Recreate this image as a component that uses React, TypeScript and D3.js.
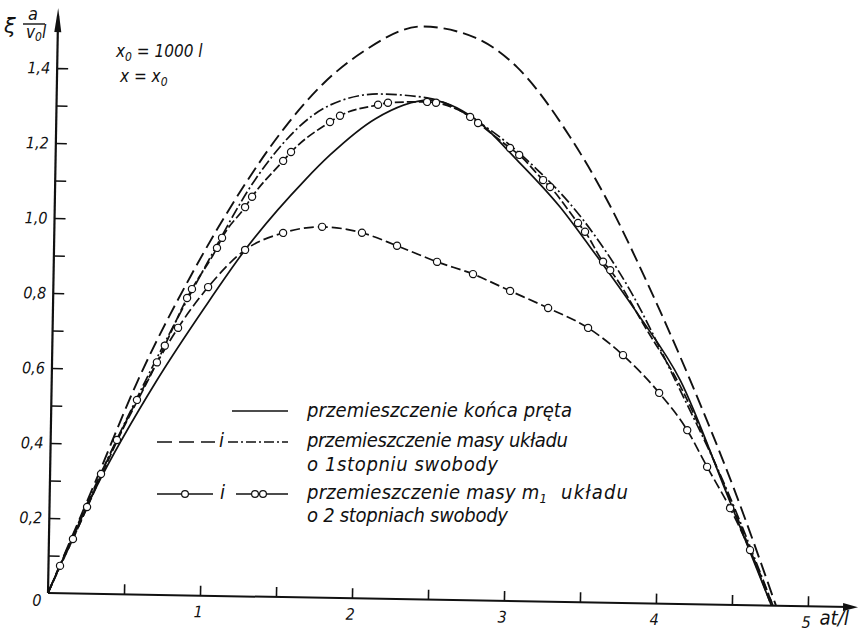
import React, { useEffect, useRef } from "react";
import * as d3 from "d3";

type Pt = [number, number];

// values: [at/l, xi*a/(v0*l)]
const rodEnd: Pt[] = [
  [0, 0], [0.3, 0.28], [0.693, 0.573], [1.0, 0.77], [1.257, 0.924], [1.643, 1.113],
  [1.805, 1.181], [2.1, 1.28], [2.457, 1.332], [2.75, 1.285], [3.036, 1.176],
  [3.324, 1.053], [3.526, 0.948], [3.85, 0.77], [4.134, 0.597], [4.45, 0.3], [4.76, 0],
];

const oneDofDashed: Pt[] = [
  [0, 0], [0.3, 0.3], [0.568, 0.572], [0.9, 0.85], [1.235, 1.09], [1.5, 1.25],
  [1.75, 1.37], [2.0, 1.455], [2.402, 1.528], [2.75, 1.5], [3.025, 1.424],
  [3.382, 1.24], [3.632, 1.074], [3.9, 0.86], [4.199, 0.598], [4.5, 0.31], [4.79, 0],
];

const oneDofDashDot: Pt[] = [
  [0, 0], [0.3, 0.29], [0.62, 0.573], [1.0, 0.88], [1.314, 1.111], [1.799, 1.314],
  [2.127, 1.346], [2.437, 1.338], [2.8, 1.27], [3.122, 1.169], [3.477, 1.02],
  [3.8, 0.83], [4.101, 0.597], [4.45, 0.31], [4.77, 0],
];

// m1, two degrees of freedom, single circles
const twoDofMarks: Pt[] = [
  [0.076, 0.073], [0.158, 0.145], [0.247, 0.231], [0.335, 0.32], [0.436, 0.411],
  [0.563, 0.519], [0.825, 0.713], [1.018, 0.823], [1.257, 0.924], [1.505, 0.971],
  [1.761, 0.989], [2.024, 0.975], [2.256, 0.942], [2.521, 0.901], [2.759, 0.87],
  [3.005, 0.827], [3.257, 0.783], [3.522, 0.732], [3.755, 0.661], [3.997, 0.562],
  [4.186, 0.464], [4.321, 0.367], [4.477, 0.258], [4.613, 0.147],
];
const twoDofLine: Pt[] = [[0, 0], ...twoDofMarks, [4.77, 0]];

// m1, two degrees of freedom, paired circles
const twoDofPairMarks: Pt[] = [
  [0.69, 0.62], [0.74, 0.665], [0.881, 0.793], [0.912, 0.817], [1.072, 0.928],
  [1.104, 0.955], [1.252, 1.038], [1.297, 1.066], [1.497, 1.163], [1.548, 1.187],
  [1.801, 1.269], [1.866, 1.286], [2.115, 1.317], [2.18, 1.323], [2.437, 1.327],
  [2.496, 1.325], [2.722, 1.289], [2.775, 1.273], [2.988, 1.208], [3.049, 1.19],
  [3.209, 1.124], [3.256, 1.106], [3.444, 1.011], [3.491, 0.988], [3.613, 0.909],
  [3.661, 0.887],
];
const twoDofPairLine: Pt[] = [
  [0, 0], [0.2, 0.185], [0.45, 0.42], ...twoDofPairMarks,
  [3.9, 0.735], [4.15, 0.57], [4.45, 0.305], [4.76, 0],
];

const xTickValues = [0.5, 1, 1.5, 2, 2.5, 3, 3.5, 4, 4.5, 5];
const xTickLabels = ["", "1", "", "2", "", "3", "", "4", "", "5"];
const yTickValues = [0.1, 0.2, 0.3, 0.4, 0.5, 0.6, 0.7, 0.8, 0.9, 1.0, 1.1, 1.2, 1.3, 1.4];
const yTickLabels = ["", "0,2", "", "0,4", "", "0,6", "", "0,8", "", "1,0", "", "1,2", "", "1,4"];

const W = 865, H = 636;
const X0 = 48, Y0 = 593;
const TILT = 1; // the scan is turned about one degree
const FONT = "'Liberation Sans Narrow', 'DejaVu Sans Condensed', 'Liberation Sans', sans-serif";
const INK = "#111";

export default function App() {
  const ref = useRef<SVGSVGElement>(null);

  useEffect(() => {
    const svg = d3.select(ref.current);
    svg.selectAll("*").remove();

    const x = d3.scaleLinear().domain([0, 5]).range([X0, X0 + 760]);
    const y = d3.scaleLinear().domain([0, 1.4]).range([Y0, Y0 - 525]);

    const g = svg.append("g").attr("transform", `rotate(${TILT},${X0},${Y0})`);

    // X axis
    const xAxis = g.append("g")
      .attr("transform", `translate(0,${Y0})`)
      .call(d3.axisBottom(x).tickValues(xTickValues).tickSizeInner(-10).tickSizeOuter(0)
        .tickPadding(8).tickFormat((d, i) => xTickLabels[i]));
    xAxis.select(".domain").remove();
    xAxis.selectAll("line").attr("stroke", INK).attr("stroke-width", 1.6);
    xAxis.selectAll("text").attr("font-family", FONT).attr("font-style", "italic")
      .attr("font-size", 16).attr("fill", INK).attr("dy", "0.85em").attr("dx", -2);

    // Y axis
    const yAxis = g.append("g")
      .attr("transform", `translate(${X0},0)`)
      .call(d3.axisLeft(y).tickValues(yTickValues).tickSizeInner(-11).tickSizeOuter(0)
        .tickPadding(7).tickFormat((d, i) => yTickLabels[i]));
    yAxis.select(".domain").remove();
    yAxis.selectAll("line").attr("stroke", INK).attr("stroke-width", 1.6);
    yAxis.selectAll("text").attr("font-family", FONT).attr("font-style", "italic")
      .attr("font-size", 16).attr("fill", INK);

    const xTip = x(5.33), yTip = y(1.56);
    g.append("line").attr("x1", X0).attr("y1", Y0).attr("x2", xTip - 8).attr("y2", Y0)
      .attr("stroke", INK).attr("stroke-width", 2);
    g.append("path").attr("d", `M${xTip},${Y0}L${xTip - 15},${Y0 - 4}L${xTip - 15},${Y0 + 4}Z`)
      .attr("fill", INK);
    g.append("line").attr("x1", X0).attr("y1", Y0).attr("x2", X0).attr("y2", yTip + 8)
      .attr("stroke", INK).attr("stroke-width", 2.2);
    g.append("path").attr("d", `M${X0},${yTip}L${X0 - 3.5},${yTip + 24}L${X0 + 3.5},${yTip + 24}Z`)
      .attr("fill", INK);

    g.append("text").attr("x", X0 - 11).attr("y", Y0 + 13).attr("text-anchor", "middle")
      .attr("font-family", FONT).attr("font-style", "italic").attr("font-size", 16)
      .attr("fill", INK).text("0");
    g.append("text").attr("x", x(5) + 12).attr("y", Y0 + 18)
      .attr("font-family", FONT).attr("font-style", "italic").attr("font-size", 20)
      .attr("fill", INK).text("at/l");

    // curves
    const line = d3.line<Pt>().x(d => x(d[0])).y(d => y(d[1])).curve(d3.curveMonotoneX);
    const curve = (data: Pt[], dash: string | null, w = 1.8) =>
      g.append("path").datum(data).attr("d", line).attr("fill", "none")
        .attr("stroke", INK).attr("stroke-width", w)
        .attr("stroke-dasharray", dash).attr("stroke-linecap", "butt");

    curve(rodEnd, null, 1.7);
    curve(oneDofDashed, "14 6", 1.9);
    curve(oneDofDashDot, "11 3 2 3", 1.7);
    curve(twoDofLine, "10 4", 1.7);
    curve(twoDofPairLine, "9 3", 1.7);

    const marks = (data: Pt[]) =>
      g.append("g").selectAll("circle").data(data).join("circle")
        .attr("cx", d => x(d[0])).attr("cy", d => y(d[1])).attr("r", 3.6)
        .attr("fill", "#fff").attr("stroke", INK).attr("stroke-width", 1.2);
    marks(twoDofMarks);
    marks(twoDofPairMarks);

    // label of the y axis
    const t = svg.append("g").attr("fill", INK).attr("font-style", "italic");
    t.append("text").attr("x", 4).attr("y", 33).attr("font-family", "'DejaVu Sans', sans-serif")
      .attr("font-size", 21).text("ξ");
    t.append("text").attr("x", 33).attr("y", 20).attr("text-anchor", "middle")
      .attr("font-family", FONT).attr("font-size", 18).text("a");
    t.append("line").attr("x1", 23).attr("x2", 45).attr("y1", 24).attr("y2", 24)
      .attr("stroke", INK).attr("stroke-width", 1.4);
    const vl = t.append("text").attr("x", 26).attr("y", 38).attr("font-family", FONT).attr("font-size", 17);
    vl.append("tspan").text("v");
    vl.append("tspan").attr("dy", 3).attr("font-size", 12).text("0");
    vl.append("tspan").attr("dy", -3).text("l");

    // parameters
    const p1 = t.append("text").attr("x", 116).attr("y", 57).attr("font-family", FONT).attr("font-size", 17);
    p1.append("tspan").text("x");
    p1.append("tspan").attr("dy", 4).attr("font-size", 12).text("0");
    p1.append("tspan").attr("dy", -4).text(" = 1000 l");
    const p2 = t.append("text").attr("x", 120).attr("y", 82).attr("font-family", FONT).attr("font-size", 17);
    p2.append("tspan").text("x = x");
    p2.append("tspan").attr("dy", 4).attr("font-size", 12).text("0");

    // legend
    const lg = svg.append("g");
    const seg = (x1: number, x2: number, yy: number, dash: string | null) =>
      lg.append("line").attr("x1", x1).attr("x2", x2).attr("y1", yy).attr("y2", yy)
        .attr("stroke", INK).attr("stroke-width", 1.7).attr("stroke-dasharray", dash);
    const ring = (cx: number, cy: number) =>
      lg.append("circle").attr("cx", cx).attr("cy", cy).attr("r", 3.4)
        .attr("fill", "#fff").attr("stroke", INK).attr("stroke-width", 1.2);
    const word = (xx: number, yy: number, s: string, len?: number) => {
      const el = lg.append("text").attr("x", xx).attr("y", yy).attr("font-family", FONT)
        .attr("font-style", "italic").attr("font-size", 20).attr("fill", INK).text(s);
      if (len) el.attr("textLength", len).attr("lengthAdjust", "spacing");
      return el;
    };

    seg(232, 288, 411, null);
    word(307, 417, "przemieszczenie końca pręta", 265);

    seg(157, 215, 442, "15 7");
    word(219, 447, "i");
    seg(228, 288, 442, "10 3 2 3");
    word(307, 447, "przemieszczenie masy układu", 261);
    word(307, 471, "o 1stopniu swobody", 191);

    seg(157, 213, 494, null);
    ring(185, 494);
    word(220, 499, "i");
    seg(236, 288, 494, null);
    ring(255, 494);
    ring(263, 494);
    const r4 = word(307, 499, "przemieszczenie masy m", 240);
    r4.append("tspan").attr("dy", 4).attr("font-size", 13).text("1");
    const r4b = word(561, 499, "układu", 67);
    r4b.attr("y", 499);
    word(307, 522, "o 2 stopniach swobody", 201);
  }, []);

  return (
    <svg ref={ref} width={W} height={H} viewBox={`0 0 ${W} ${H}`}
      style={{ position: "absolute", left: 0, top: 0, background: "#fff" }} />
  );
}
